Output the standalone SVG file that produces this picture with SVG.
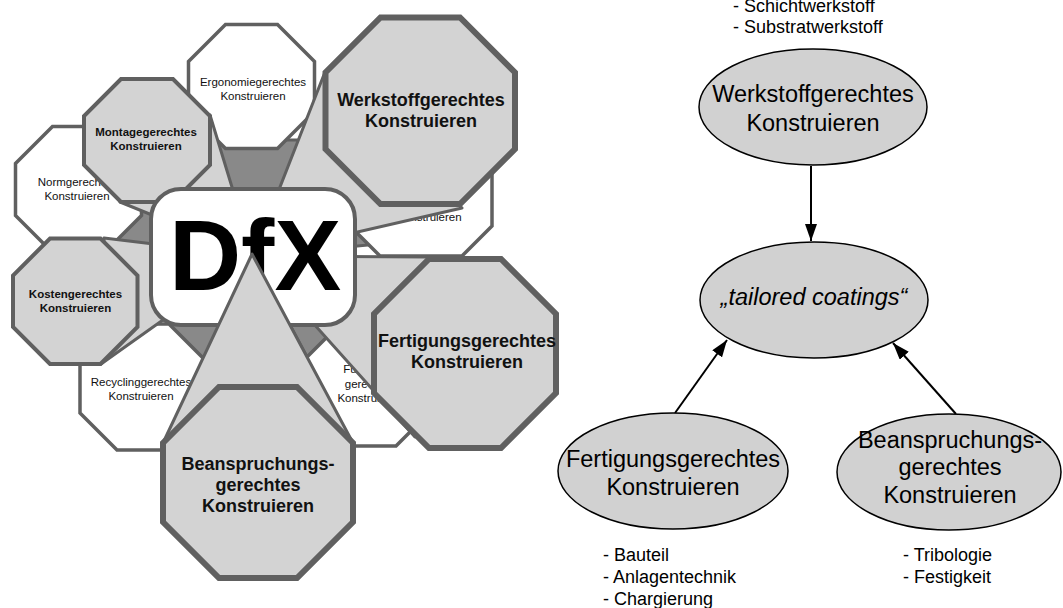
<svg xmlns="http://www.w3.org/2000/svg" width="1063" height="608" viewBox="0 0 1063 608">
<defs>
<style>
.dw{fill:#898989;stroke:#606060;stroke-width:3;stroke-linejoin:round}
.lw{fill:#d3d3d3;stroke:#606060;stroke-width:3;stroke-linejoin:round}
.wo{fill:#ffffff;stroke:#606060;stroke-width:3.5}
.lo{fill:#d3d3d3;stroke:#606060;stroke-width:4}
.to{fill:#d3d3d3;stroke:#606060;stroke-width:6}
.st{font-family:"Liberation Sans",Arial,sans-serif;font-size:11.5px;fill:#111;text-anchor:middle}
.sb{font-family:"Liberation Sans",Arial,sans-serif;font-size:11.5px;font-weight:bold;fill:#111;text-anchor:middle}
.bb{font-family:"Liberation Sans",Arial,sans-serif;font-size:18px;font-weight:bold;fill:#111;text-anchor:middle}
.el{fill:#d1d1d1;stroke:#000;stroke-width:1.5}
.et{font-family:"Liberation Sans",Arial,sans-serif;font-size:23.5px;fill:#000;text-anchor:middle}
.lt{font-family:"Liberation Sans",Arial,sans-serif;font-size:18px;fill:#000}
.ar{stroke:#000;stroke-width:2;fill:none}
</style>
<marker id="ah" viewBox="0 0 17 12" refX="17" refY="6" markerWidth="17" markerHeight="12" markerUnits="userSpaceOnUse" orient="auto">
<path d="M0,0 L17,6 L0,12 Z" fill="#000"/>
</marker>
</defs>

<g id="pointers-dark">
<polygon class="dw" points="253,256 216,140 310,140"/>
<polygon class="dw" points="253,256 90,180 100,245"/>
<polygon class="dw" points="253,256 420,170 420,240"/>
<polygon class="dw" points="253,256 120,360 190,420"/>
<polygon class="dw" points="253,256 330,400 390,370"/>
</g>

<g id="ergonomie">
<path class="wo" d="M225.5,24.5 L277.5,24.5 L314.5,61.5 L314.5,111.5 L277.5,148.5 L225.5,148.5 L188.5,111.5 L188.5,61.5 Z"/>
<text class="st" x="253" y="86">Ergonomiegerechtes</text>
<text class="st" x="253" y="100">Konstruieren</text>
</g>
<g id="norm">
<path class="wo" d="M52.5,126.5 L104.5,126.5 L141.5,163.5 L141.5,215.5 L104.5,252.5 L52.5,252.5 L15.5,215.5 L15.5,163.5 Z"/>
<text class="st" x="77" y="186">Normgerechtes</text>
<text class="st" x="77" y="200">Konstruieren</text>
</g>
<g id="pruef">
<path class="wo" d="M380,124 L462,124 L492,154 L492,226 L462,256 L380,256 L350,226 L350,154 Z"/>
<text class="st" x="429" y="221">Konstruieren</text>
</g>
<g id="recycling">
<path class="wo" d="M117,324 L169,324 L206,361 L206,413 L169,450 L117,450 L80,413 L80,361 Z"/>
<text class="st" x="141" y="385.5">Recyclinggerechtes</text>
<text class="st" x="141" y="399.5">Konstruieren</text>
</g>
<g id="funktion">
<path class="wo" d="M344,320 L396,320 L433,357 L433,409 L396,446 L344,446 L307,409 L307,357 Z"/>
<text class="st" x="370" y="373">Funktions-</text>
<text class="st" x="370" y="388">gerechtes</text>
<text class="st" x="370" y="402">Konstruieren</text>
</g>

<g id="pointers-light">
<polygon class="lw" points="253,256 210,115 120,202"/>
<polygon class="lw" points="253,256 104,238 101,364"/>
<polygon class="lw" points="253,256 325,72 462,208"/>
<polygon class="lw" points="253,256 429,257 415,437"/>
</g>

<g id="montage">
<path class="lo" d="M121,79 L173,79 L210,116 L210,165 L173,202 L121,202 L84,165 L84,116 Z"/>
<text class="sb" x="146" y="136">Montagegerechtes</text>
<text class="sb" x="146" y="150">Konstruieren</text>
</g>
<g id="kosten">
<path class="lo" d="M50,238.5 L100.5,238.5 L137.5,275.5 L137.5,327 L100.5,364 L50,364 L13,327 L13,275.5 Z"/>
<text class="sb" x="75.5" y="298">Kostengerechtes</text>
<text class="sb" x="75.5" y="312">Konstruieren</text>
</g>
<g id="werkstoff">
<path class="to" d="M380.5,17.5 L460,17.5 L515,72.5 L515,149 L460,204 L380.5,204 L325.5,149 L325.5,72.5 Z"/>
<text class="bb" x="421" y="106">Werkstoffgerechtes</text>
<text class="bb" x="421" y="127">Konstruieren</text>
</g>
<g id="fertigung">
<path class="to" d="M429,259 L501,259 L556,314 L556,393 L501,448 L429,448 L374,393 L374,314 Z"/>
<text class="bb" x="467" y="347">Fertigungsgerechtes</text>
<text class="bb" x="467" y="368">Konstruieren</text>
</g>

<g id="dfx">
<rect x="151" y="189" width="204" height="136" rx="30" ry="30" fill="#fff" stroke="#606060" stroke-width="4"/>
<text x="255" y="290" font-family="Liberation Sans,Arial,sans-serif" font-size="100" font-weight="bold" fill="#000" text-anchor="middle">DfX</text>
</g>

<g id="beanspruchung">
<polygon class="lw" points="252,254 163,443 353,443"/>
<path class="to" d="M219,387 L297,387 L353,443 L353,522 L297,578 L219,578 L163,522 L163,443 Z"/>
<text class="bb" x="258" y="470">Beanspruchungs-</text>
<text class="bb" x="258" y="491">gerechtes</text>
<text class="bb" x="258" y="512">Konstruieren</text>
</g>

<g id="list-top">
<text class="lt" x="733" y="11.5">- Schichtwerkstoff</text>
<text class="lt" x="733" y="33">- Substratwerkstoff</text>
</g>

<g id="connectors">
<line class="ar" x1="811" y1="166" x2="811" y2="241" marker-end="url(#ah)"/>
<line class="ar" x1="675" y1="413" x2="727" y2="340" marker-end="url(#ah)"/>
<line class="ar" x1="956" y1="414" x2="893" y2="343" marker-end="url(#ah)"/>
</g>

<g id="e-werkstoff">
<ellipse class="el" cx="813" cy="107" rx="114" ry="58"/>
<text class="et" x="813" y="102">Werkstoffgerechtes</text>
<text class="et" x="813" y="131">Konstruieren</text>
</g>
<g id="e-tailored">
<ellipse class="el" cx="814" cy="300" rx="114" ry="58"/>
<text class="et" x="814" y="305" font-style="italic">„tailored coatings“</text>
</g>
<g id="e-fertigung">
<ellipse class="el" cx="673" cy="471" rx="115" ry="58"/>
<text class="et" x="673" y="467">Fertigungsgerechtes</text>
<text class="et" x="673" y="495">Konstruieren</text>
</g>
<g id="e-beanspruchung">
<ellipse class="el" cx="949" cy="472" rx="112" ry="58"/>
<text class="et" x="950" y="448">Beanspruchungs-</text>
<text class="et" x="950" y="475">gerechtes</text>
<text class="et" x="950" y="503">Konstruieren</text>
</g>

<g id="list-fertigung">
<text class="lt" x="603" y="561">- Bauteil</text>
<text class="lt" x="603" y="583">- Anlagentechnik</text>
<text class="lt" x="603" y="605">- Chargierung</text>
</g>
<g id="list-beanspruchung">
<text class="lt" x="903" y="561">- Tribologie</text>
<text class="lt" x="903" y="583">- Festigkeit</text>
</g>
</svg>
